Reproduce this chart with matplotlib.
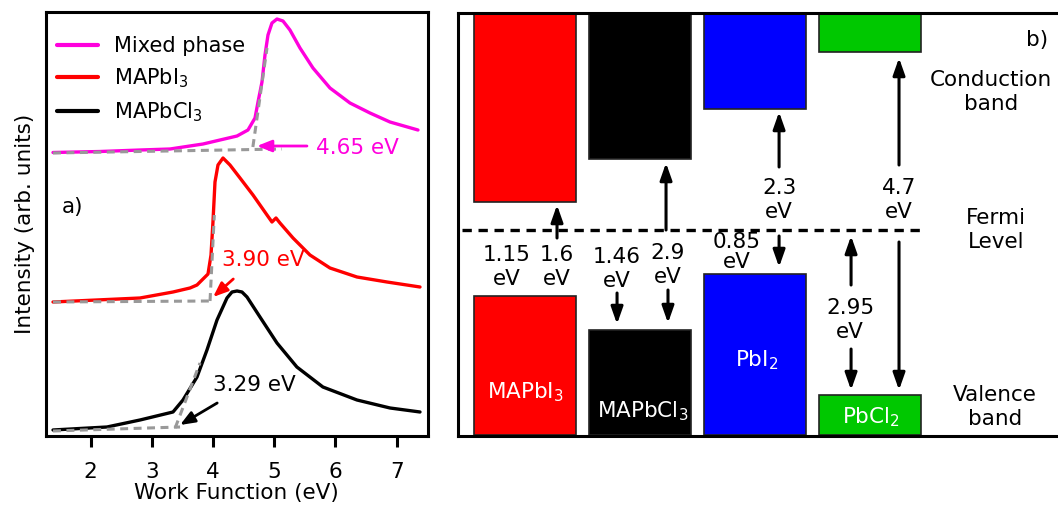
import numpy as np
import matplotlib
matplotlib.use("Agg")
import matplotlib.pyplot as plt

plt.rcParams['font.family'] = ['DejaVu Sans']
plt.rcParams['mathtext.fontset'] = 'dejavusans'

# ---------------- Panel a data (work function in eV, intensity arb.) -------------
mixed_x = [1.384, 2.152, 2.806, 3.296, 3.835, 4.391, 4.570, 4.685, 4.734, 4.799, 4.848, 4.897,
           4.962, 5.044, 5.142, 5.256, 5.420, 5.632, 5.910, 6.237, 6.564, 6.891, 7.348]
mixed_y = [284.5, 285.5, 287, 288, 293, 301, 307, 319, 335, 355, 382, 402,
           414, 418, 416, 407, 389, 369, 349, 334, 324, 315, 307]

mapbi_x = [1.384, 2.806, 3.345, 3.623, 3.737, 3.868, 3.917, 3.966, 3.998, 4.031, 4.080, 4.162,
           4.276, 4.440, 4.652, 4.881, 4.962, 5.028, 5.093, 5.306, 5.583, 5.910, 6.351, 6.842,
           7.381]
mapbi_y = [135, 139, 145, 149, 152, 160, 163, 182, 215, 255, 272, 279,
           272, 259, 242, 222, 215, 219, 214, 199, 182, 169, 160, 155,
           150]

mapbcl_x = [1.384, 2.266, 2.806, 3.345, 3.508, 3.737, 3.900, 4.064, 4.227, 4.309, 4.391, 4.472,
            4.554, 4.766, 5.044, 5.369, 5.794, 6.351, 6.891, 7.381]
mapbcl_y = [7, 10, 17, 25, 37, 60, 87, 117, 139, 145, 146, 145,
            140, 120, 94, 70, 50, 37, 29, 25]

series_labels = ['Mixed phase', 'MAPbI$_3$', 'MAPbCl$_3$']
series_colors = ['#ff00dd', '#ff0000', '#000000']

# onset construction lines (baseline + tangent), per series
mixed_base = ([1.384, 5.126], [284, 288])
mixed_tan = ([4.650, 4.881], [290, 389])
mapbi_base = ([1.384, 3.950], [135, 136])
mapbi_tan = ([3.950, 4.020], [136, 222])
mapbcl_base = ([1.384, 3.460], [6, 10])
mapbcl_tan = ([3.380, 3.786], [9, 74])

onset_labels = ['4.65 eV', '3.90 eV', '3.29 eV']
onset_text_xy = [(5.68, 289), (4.15, 177), (4.00, 52)]
onset_arrow_tail = [(5.534, 291), (4.33, 158), (4.067, 34)]
onset_arrow_tip = [(4.717, 291), (4.00, 140), (3.46, 12)]

xticks_a = [2, 3, 4, 5, 6, 7]

# ---------------- Panel b data (schematic energy levels, Fermi = 0) --------------
materials = ['MAPbI$_3$', 'MAPbCl$_3$', 'PbI$_2$', 'PbCl$_2$']
mat_colors = ['#ff0000', '#000000', '#0000ff', '#00c800']
slot = np.arange(4)
cb_bottom = [28, 71, 121, 178]
cb_top = [216, 216, 216, 216]
vb_top = [-66, -100, -44, -165]
vb_bottom = [-205, -205, -205, -205]
mat_label_xy = [(0.0, -168), (1.026, -187), (2.017, -136), (3.009, -193)]

# arrows: x, y_start, y_end
arrow_x = [0.278, 1.226, 0.800, 1.243, 2.209, 3.252, 2.209, 2.835, 2.835, 3.252]
arrow_y0 = [-8, 0, -63, -60, 63, 65, -6, -55, -119, -12]
arrow_y1 = [25, 67, -94, -93, 118, 172, -37, -6, -160, -160]

gap_labels = ['1.15\neV', '1.6\neV', '1.46\neV', '2.9\neV', '2.3\neV', '4.7\neV', '0.85\neV', '2.95\neV']
gap_xy = [(-0.157, -37), (0.278, -37), (0.800, -39), (1.243, -35),
          (2.209, 30), (3.252, 30), (1.843, -22), (2.826, -90)]

side_labels = ['Conduction\nband', 'Fermi\nLevel', 'Valence\nband']
side_xy = [(4.052, 138), (4.096, 0), (4.087, -177)]

FS = 15.5

fig = plt.figure(figsize=(10.58, 5.13), dpi=100)

# ---------------- Panel a ----------------
ax = fig.add_axes([0.0435, 0.1507, 0.3607, 0.8253])
curves = [(mixed_x, mixed_y), (mapbi_x, mapbi_y), (mapbcl_x, mapbcl_y)]
for (cx, cy), lab, col in zip(curves, series_labels, series_colors):
    ax.plot(cx, cy, color=col, lw=2.4, label=lab, solid_capstyle='round',
            solid_joinstyle='round', zorder=2)
for bx, by in [mixed_base, mixed_tan, mapbi_base, mapbi_tan, mapbcl_base, mapbcl_tan]:
    ax.plot(bx, by, color='#999999', lw=2.2, ls=(0, (2.6, 1.8)), zorder=3)
for txt, col, txy, tail, tip in zip(onset_labels, series_colors, onset_text_xy,
                                     onset_arrow_tail, onset_arrow_tip):
    ax.text(txy[0], txy[1], txt, color=col, fontsize=FS, ha='left', va='center')
    ax.annotate('', xy=tip, xytext=tail,
                arrowprops=dict(arrowstyle='-|>,head_length=0.8,head_width=0.32',
                                mutation_scale=11, color=col, lw=2.0,
                                shrinkA=0, shrinkB=0))
ax.text(1.53, 230, 'a)', fontsize=FS, ha='left', va='center')
ax.set_xlim(1.27, 7.506)
ax.set_ylim(1.3, 424.7)
ax.set_xticks(xticks_a)
ax.set_yticks([])
ax.tick_params(axis='x', direction='out', length=8, width=2.2, labelsize=FS, pad=11)
for sp in ax.spines.values():
    sp.set_linewidth(2.2)
ax.set_xlabel('Work Function (eV)', fontsize=FS, labelpad=1)
ax.set_ylabel('Intensity (arb. units)', fontsize=FS, labelpad=8)
leg = ax.legend(loc='upper left', bbox_to_anchor=(-0.01, 0.978), frameon=False,
                fontsize=FS - 0.5, handlelength=2.0, handletextpad=0.75, labelspacing=0.5,
                borderaxespad=0.3)
for line in leg.get_lines():
    line.set_linewidth(3)

# ---------------- Panel b ----------------
bx_ = fig.add_axes([0.4329, 0.151, 0.569, 0.8237])
w = 0.88
for i in range(4):
    bx_.bar(slot[i], cb_top[i] - cb_bottom[i], bottom=cb_bottom[i], width=w,
            color=mat_colors[i], edgecolor='#222222', lw=1.2, zorder=2)
    bx_.bar(slot[i], vb_top[i] - vb_bottom[i], bottom=vb_bottom[i], width=w,
            color=mat_colors[i], edgecolor='#222222', lw=1.2, zorder=2)
    bx_.text(mat_label_xy[i][0], mat_label_xy[i][1], materials[i], color='white',
             fontsize=FS, ha='center', va='baseline', zorder=4)
bx_.plot([-0.548, 3.435], [0, 0], color='black', lw=2.4, ls=(0, (2.8, 2.0)), zorder=1)
for x, y0, y1 in zip(arrow_x, arrow_y0, arrow_y1):
    bx_.annotate('', xy=(x, y1), xytext=(x, y0),
                 arrowprops=dict(arrowstyle='-|>,head_length=0.85,head_width=0.3',
                                 mutation_scale=12, color='black', lw=2.2,
                                 shrinkA=0, shrinkB=0), zorder=3)
for lab, (x, y) in zip(gap_labels, gap_xy):
    ls = 1.0 if lab.startswith('0.85') else 1.2
    bx_.text(x, y, lab, fontsize=FS, ha='center', va='center', linespacing=ls, zorder=1)
for lab, (x, y) in zip(side_labels, side_xy):
    bx_.text(x, y, lab, fontsize=FS, ha='center', va='center')
bx_.text(4.452, 190, 'b)', fontsize=FS, ha='center', va='center')
bx_.set_xlim(-0.583, 4.652)
bx_.set_ylim(-205.5, 217)
bx_.set_xticks([])
bx_.set_yticks([])
for sp in bx_.spines.values():
    sp.set_linewidth(2.2)

fig.savefig('out.png', dpi=100)
